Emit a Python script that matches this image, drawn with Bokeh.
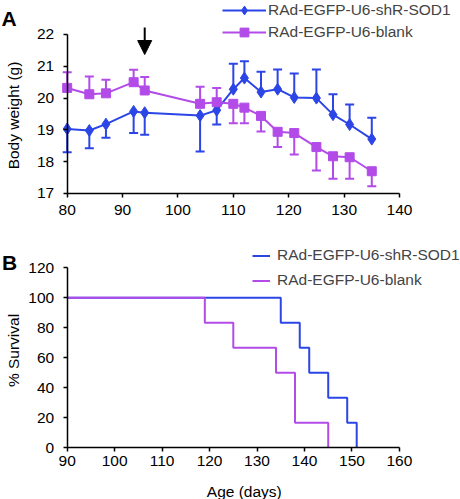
from math import pi
import numpy as np
from bokeh.plotting import figure
from bokeh.layouts import column
from bokeh.models import Legend, LegendItem, Label, Arrow, NormalHead
from bokeh.embed import file_html
from bokeh.resources import INLINE

FONT = "Liberation Sans"
BLUE = "#2B45E6"
PURPLE = "#B24BE8"

# ---------------- Panel A data: body weight ----------------
age_days = [80, 84, 87, 92, 94, 104, 107, 110, 112, 115, 118, 121, 125, 128, 131, 135]
shr_weight = [19.03, 18.98, 19.18, 19.58, 19.54, 19.45, 19.62, 20.28, 20.63, 20.19,
              20.28, 20.02, 20.00, 19.48, 19.17, 18.71]
shr_err = [0.73, 0.56, 0.43, 0.68, 0.69, 1.13, 0.45, 0.80, 0.53, 0.64,
           0.62, 0.75, 0.90, 0.64, 0.63, 0.67]
blank_weight = [20.32, 20.12, 20.15, 20.50, 20.24, 19.82, 19.87, 19.82, 19.70, 19.44,
                18.94, 18.90, 18.46, 18.17, 18.14, 17.70]
blank_err = [0.49, 0.56, 0.43, 0.39, 0.42, 0.54, 0.45, 0.61, 0.49, 0.49,
             0.48, 0.67, 0.74, 0.71, 0.68, 0.47]
injection_day = 94
weight_xticks = [80, 90, 100, 110, 120, 130, 140]
weight_yticks = [17, 18, 19, 20, 21, 22]

# ---------------- Panel B data: survival ----------------
shr_death_days = [135, 139, 141, 145, 149, 151]
blank_death_days = [119, 125, 134, 138, 138, 145]
survival_start_day = 90
survival_xticks = [90, 100, 110, 120, 130, 140, 150, 160]
survival_yticks = [0, 20, 40, 60, 80, 100, 120]

LABEL_SHR = "RAd-EGFP-U6-shR-SOD1"
LABEL_BLANK = "RAd-EGFP-U6-blank"


def kaplan_meier(deaths, start):
    n = len(deaths)
    xs, ys = [start], [100.0]
    alive = n
    for d in sorted(set(deaths)):
        alive -= deaths.count(d)
        xs.append(d)
        ys.append(100.0 * alive / n)
    return xs, ys


def make_fig(w, h, xr, yr, xticks, yticks):
    # the frame fills the whole canvas; axes are pinned to the data origin
    p = figure(width=w, height=h, x_range=xr, y_range=yr,
               output_backend="svg", toolbar_location=None, title=None,
               min_border_left=0, min_border_right=0, min_border_top=0, min_border_bottom=0)
    p.grid.visible = False
    p.outline_line_color = None
    p.xaxis.ticker = xticks
    p.yaxis.ticker = yticks
    p.xaxis.bounds = (xticks[0], xticks[-1])
    p.yaxis.bounds = (yticks[0], yticks[-1])
    p.xaxis.fixed_location = yticks[0]
    p.yaxis.fixed_location = xticks[0]
    for ax in p.axis:
        ax.axis_line_width = 1.5
        ax.axis_line_color = "black"
        ax.major_tick_line_color = "black"
        ax.major_tick_line_width = 1.5
        ax.major_tick_out = 4
        ax.major_tick_in = 0
        ax.minor_tick_line_color = None
        ax.major_label_text_font = FONT
        ax.major_label_text_font_size = "15.5px"
        ax.major_label_text_color = "black"
    p.yaxis.major_label_standoff = 9
    return p


def make_legend(items, loc, glyph_width, glyph_height, standoff):
    return Legend(items=items, location=loc, glyph_width=glyph_width,
                  glyph_height=glyph_height, label_height=16, spacing=0,
                  label_standoff=standoff, padding=0, margin=0,
                  border_line_color=None, background_fill_alpha=0,
                  label_text_font=FONT, label_text_font_size="15.5px")


def add_text(p, text, x, y, size="15.5px", bold=False, angle=0.0, align="left"):
    p.add_layout(Label(x=x, y=y, x_units="screen", y_units="screen", text=text,
                       angle=angle, text_font=FONT, text_font_size=size,
                       text_font_style="bold" if bold else "normal",
                       text_color="black", text_baseline="alphabetic",
                       text_align=align))


# ================= Panel A =================
pA = make_fig(460, 242, (67.96, 151.02), (15.459, 23.069), weight_xticks, weight_yticks)
pA.xaxis.major_label_standoff = 8

x = np.array(age_days, dtype=float)
sw = np.array(shr_weight)
bw = np.array(blank_weight)
s_dir = np.where(sw < bw, -1.0, 1.0)
s_tip = sw + s_dir * np.array(shr_err)
b_tip = bw - s_dir * np.array(blank_err)

for yv, tip, col in ((sw, s_tip, BLUE), (bw, b_tip, PURPLE)):
    pA.segment(x0=x, y0=yv, x1=x, y1=tip, line_color=col, line_width=2)
    pA.dash(x=x, y=tip, size=9, line_color=col, line_width=2)

s_line = pA.line(x, sw, line_color=BLUE, line_width=2)
s_mark = pA.scatter(x, sw, marker="diamond", size=12, fill_color=BLUE, line_color=BLUE)
b_line = pA.line(x, bw, line_color=PURPLE, line_width=2)
b_mark = pA.scatter(x, bw, marker="square", size=9, fill_color=PURPLE, line_color=PURPLE)

pA.add_layout(Arrow(end=NormalHead(size=14, fill_color="black", line_color="black"),
                    x_start=injection_day, y_start=22.22, x_end=injection_day, y_end=21.37,
                    line_width=2, line_color="black"))

pA.add_layout(make_legend([LegendItem(label=LABEL_SHR, renderers=[s_line, s_mark]),
                           LegendItem(label=LABEL_BLANK, renderers=[b_line, b_mark])],
                          (222, 199), 44, 22, 2), "center")

add_text(pA, "A", 1, 223.7, size="21px", bold=True)
add_text(pA, "Body weight (g)", 12.5, 127, angle=pi / 2, align="center")

# ================= Panel B =================
pB = make_fig(460, 257, (75.95, 172.87), (-34.47, 136.87), survival_xticks, survival_yticks)
pB.xaxis.major_label_standoff = 4

sx, sy = kaplan_meier(shr_death_days, survival_start_day)
bx, by = kaplan_meier(blank_death_days, survival_start_day)
s_step = pB.step(sx, sy, mode="after", line_color=BLUE, line_width=2)
b_step = pB.step(bx, by, mode="after", line_color=PURPLE, line_width=2)

pB.add_layout(make_legend([LegendItem(label=LABEL_SHR, renderers=[s_step]),
                           LegendItem(label=LABEL_BLANK, renderers=[b_step])],
                          (252, 206.5), 18, 25, 7), "center")

add_text(pB, "B", 1.5, 236.7, size="21px", bold=True)
add_text(pB, "% Survival", 13, 149, angle=pi / 2, align="center")
add_text(pB, "Age (days)", 243.8, 8.5, align="center")

layout = column(pA, pB, spacing=0)
open("out.html", "w").write(file_html(layout, INLINE))
